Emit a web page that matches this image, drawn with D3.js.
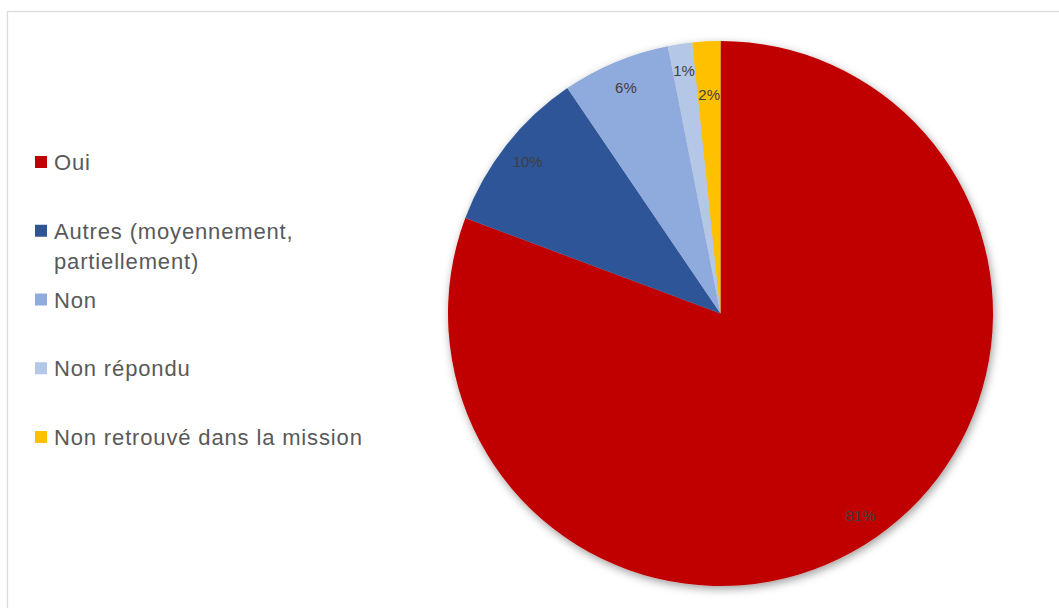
<!DOCTYPE html>
<html>
<head>
<meta charset="utf-8">
<script src="https://cdn.jsdelivr.net/npm/d3@7"></script>
<style>
  html, body { margin: 0; padding: 0; background: #fff; }
  svg { display: block; }
</style>
</head>
<body>
<svg id="chart" width="1059" height="608"></svg>
<script>
// Survey answers (share of responses, %)
const categories = ["Oui", "Autres (moyennement, partiellement)", "Non", "Non répondu", "Non retrouvé dans la mission"];
const legendLines = [["Oui"], ["Autres (moyennement,", "partiellement)"], ["Non"], ["Non répondu"], ["Non retrouvé dans la mission"]];
const values = [80.7, 9.8, 6.4, 1.45, 1.65];
const colors = ["#C00000", "#2F5597", "#8FAADC", "#B4C7E7", "#FFC000"];

const W = 1059, H = 608;
const svg = d3.select("#chart");

// chart area frame
svg.append("rect")
  .attr("x", 7.5).attr("y", 11.5)
  .attr("width", W + 10).attr("height", H + 10)
  .attr("fill", "#fff").attr("stroke", "#d9d9d9").attr("stroke-width", 1.2);

const defs = svg.append("defs");
const f = defs.append("filter").attr("id", "pieShadow")
  .attr("x", "-10%").attr("y", "-10%").attr("width", "120%").attr("height", "120%");
f.append("feDropShadow")
  .attr("dx", 1.5).attr("dy", 3).attr("stdDeviation", 4.5)
  .attr("flood-color", "#000").attr("flood-opacity", 0.38);

// pie
const cx = 720.5, cy = 313.5, r = 272.5;
const total = d3.sum(values);
const pie = d3.pie().sort(null).value(d => d)(values);
const arc = d3.arc().innerRadius(0).outerRadius(r);
const color = d3.scaleOrdinal().domain(categories).range(colors);

const g = svg.append("g").attr("transform", `translate(${cx},${cy})`);
g.append("g").attr("filter", "url(#pieShadow)")
  .selectAll("path").data(pie).join("path")
  .attr("d", arc)
  .attr("fill", (d, i) => color(categories[i]));

// data labels, pushed inward when they crowd a neighbour
const fmt = d3.format(".0%");
const placed = [];
pie.forEach((d, i) => {
  const mid = (d.startAngle + d.endAngle) / 2;
  let rad = r * 0.9;
  const t = g.append("text")
    .attr("text-anchor", "middle").attr("dominant-baseline", "central")
    .attr("font-family", "Liberation Sans, Arial, sans-serif")
    .attr("font-size", 15).attr("fill", "#404040")
    .text(fmt(d.value / total));
  let box;
  for (let k = 0; k < 80; k++) {
    const x = rad * Math.sin(mid), y = -rad * Math.cos(mid);
    t.attr("x", x).attr("y", y);
    const b = t.node().getBBox();
    box = { x0: b.x - 3, x1: b.x + b.width + 3, y0: b.y - 3, y1: b.y + b.height + 3 };
    const hit = placed.some(p => box.x0 < p.x1 && box.x1 > p.x0 && box.y0 < p.y1 && box.y1 > p.y0);
    if (!hit) break;
    rad -= 2;
  }
  placed.push(box);
});

// legend
const ly = d3.scalePoint().domain(categories).range([162, 437]);
const leg = svg.append("g");
categories.forEach((c, i) => {
  const y = ly(c);
  leg.append("rect")
    .attr("x", 35).attr("y", y - 6).attr("width", 12).attr("height", 12)
    .attr("fill", color(c));
  const t = leg.append("text")
    .attr("x", 54).attr("y", y)
    .attr("dominant-baseline", "central")
    .attr("font-family", "Liberation Sans, Arial, sans-serif")
    .attr("font-size", 22).attr("letter-spacing", 0.85).attr("fill", "#595959");
  legendLines[i].forEach((line, j) => {
    t.append("tspan").attr("x", 54).attr("dy", j === 0 ? 0 : 30).text(line);
  });
});
</script>
</body>
</html>
